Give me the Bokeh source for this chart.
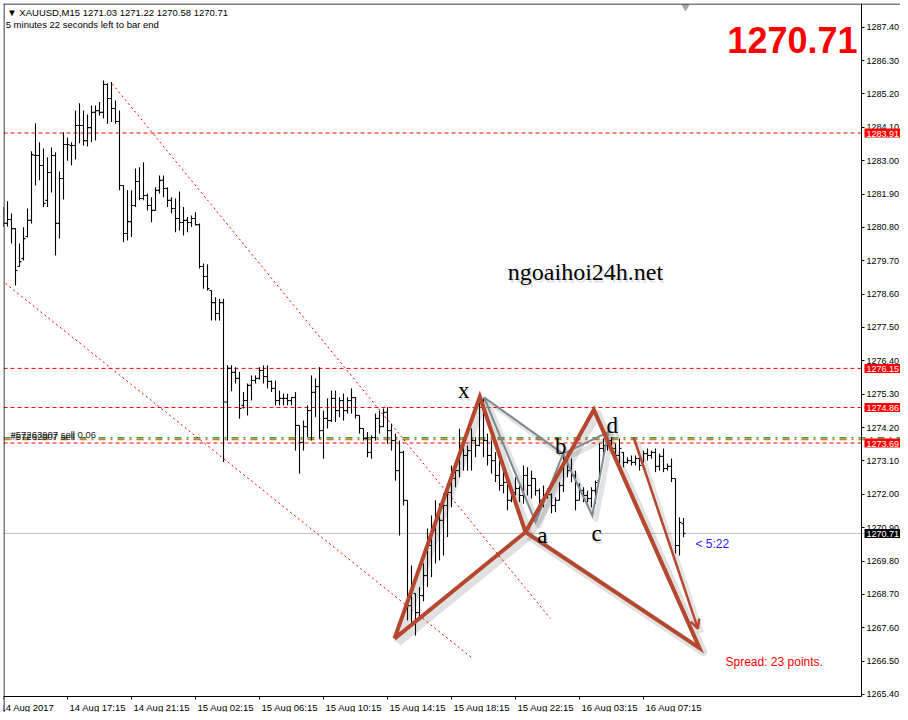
import numpy as np
from bokeh.plotting import figure
from bokeh.models import (Range1d, FixedTicker, Span, Label, Arrow, OpenHead, ColumnDataSource,
                          LinearAxis)
from bokeh.core.properties import value
from bokeh.embed import file_html
from bokeh.resources import INLINE

# ---------------- data (XAUUSD M15 bars) ----------------
opens = [
    1281.19, 1280.93, 1281.06, 1280.76, 1279.51, 1279.77, 1280.50, 1281.03, 1283.17, 1283.17,
    1282.84, 1281.69, 1282.61, 1283.17, 1280.93, 1282.41, 1283.53, 1283.50, 1283.50, 1284.16,
    1284.16, 1283.66, 1284.09, 1284.59, 1284.65, 1284.59, 1285.51, 1285.05, 1284.72, 1284.29,
    1282.18, 1280.60, 1280.99, 1281.52, 1282.31, 1281.75, 1281.85, 1281.52, 1281.36, 1282.02,
    1282.35, 1282.08, 1281.69, 1281.42, 1281.09, 1280.96, 1281.03, 1280.96, 1281.09, 1280.89,
    1279.51, 1279.18, 1278.72, 1278.32, 1277.96, 1278.32, 1275.04, 1276.15, 1276.02, 1275.82,
    1274.93, 1275.09, 1275.59, 1275.75, 1275.82, 1276.08, 1275.88, 1275.72, 1275.49, 1275.09,
    1275.16, 1275.16, 1275.09, 1275.19, 1274.27, 1273.71, 1274.23, 1274.76, 1275.36, 1275.55,
    1274.10, 1274.50, 1274.43, 1275.16, 1274.76, 1275.09, 1274.76, 1275.09, 1275.19, 1274.60,
    1274.17, 1273.84, 1273.38, 1273.87, 1274.50, 1274.23, 1274.70, 1274.10, 1273.77, 1272.78,
    1273.38, 1271.80, 1268.33, 1268.73, 1268.10, 1268.66, 1269.32, 1270.31, 1270.81, 1271.30,
    1271.14, 1271.63, 1272.06, 1272.52, 1272.78, 1273.61, 1273.28, 1273.44, 1273.77, 1273.61,
    1275.09, 1273.77, 1273.28, 1273.11, 1272.62, 1272.29, 1272.39, 1271.80, 1272.06, 1272.19,
    1271.96, 1272.62, 1272.29, 1272.52, 1272.12, 1271.80, 1271.96, 1271.99, 1271.63, 1271.80,
    1272.29, 1273.05, 1272.78, 1272.62, 1271.80, 1272.12, 1271.96, 1271.86, 1272.12, 1272.45,
    1273.51, 1273.61, 1273.77, 1273.51, 1273.28, 1273.38, 1273.05, 1273.11, 1273.05, 1273.18,
    1273.06, 1273.34, 1273.28, 1273.38, 1272.92, 1273.25, 1272.85, 1272.92, 1272.52, 1270.31,
    1271.03]
highs = [
    1281.47, 1281.66, 1281.26, 1280.76, 1280.27, 1280.80, 1281.42, 1283.31, 1284.23, 1283.61,
    1283.40, 1283.11, 1283.43, 1283.28, 1282.64, 1283.94, 1283.76, 1283.61, 1284.65, 1284.89,
    1284.65, 1284.52, 1284.82, 1284.82, 1284.93, 1285.64, 1285.55, 1285.59, 1284.98, 1284.65,
    1282.18, 1282.02, 1282.02, 1282.74, 1282.78, 1282.95, 1281.92, 1281.79, 1282.12, 1282.51,
    1282.51, 1282.12, 1281.79, 1281.75, 1281.98, 1281.47, 1281.14, 1281.19, 1281.30, 1280.93,
    1279.61, 1279.58, 1278.72, 1278.50, 1278.45, 1278.45, 1276.25, 1276.25, 1276.19, 1276.03,
    1275.37, 1275.65, 1275.92, 1275.92, 1276.19, 1276.25, 1276.25, 1275.75, 1275.75, 1275.42,
    1275.32, 1275.32, 1275.20, 1275.37, 1274.27, 1274.43, 1274.93, 1275.92, 1275.82, 1276.19,
    1274.76, 1275.16, 1275.42, 1275.42, 1275.20, 1275.32, 1275.20, 1275.49, 1275.20, 1274.60,
    1274.17, 1274.05, 1273.94, 1274.66, 1274.76, 1274.83, 1274.87, 1274.33, 1274.00, 1273.77,
    1273.44, 1271.80, 1269.65, 1268.73, 1268.94, 1269.72, 1270.87, 1271.30, 1271.80, 1271.70,
    1272.03, 1272.36, 1272.95, 1272.95, 1274.16, 1273.84, 1273.61, 1274.17, 1273.88, 1275.26,
    1275.16, 1274.00, 1273.77, 1273.39, 1273.11, 1272.95, 1272.40, 1272.29, 1272.56, 1272.29,
    1272.95, 1272.89, 1272.78, 1272.52, 1272.19, 1272.29, 1272.19, 1272.03, 1271.90, 1272.40,
    1273.28, 1273.34, 1273.18, 1272.78, 1272.36, 1272.23, 1272.12, 1272.23, 1272.45, 1273.67,
    1273.84, 1274.05, 1273.88, 1273.67, 1273.84, 1273.39, 1273.22, 1273.28, 1273.28, 1273.22,
    1273.44, 1273.51, 1273.44, 1273.51, 1273.34, 1273.51, 1273.01, 1273.18, 1272.52, 1271.24,
    1271.22]
lows = [
    1280.81, 1280.83, 1280.27, 1278.88, 1279.51, 1279.71, 1280.47, 1280.93, 1282.18, 1282.35,
    1281.47, 1281.47, 1281.95, 1279.87, 1280.43, 1281.72, 1283.00, 1282.84, 1283.04, 1283.57,
    1283.50, 1283.47, 1283.61, 1283.66, 1284.49, 1284.39, 1284.22, 1284.27, 1284.22, 1282.02,
    1280.31, 1280.37, 1280.48, 1281.47, 1281.69, 1281.69, 1281.36, 1280.97, 1281.36, 1281.92,
    1281.79, 1281.47, 1281.26, 1280.64, 1280.70, 1280.53, 1280.64, 1280.81, 1280.86, 1279.44,
    1278.78, 1278.72, 1277.73, 1277.73, 1277.73, 1273.06, 1273.77, 1275.40, 1275.65, 1274.49,
    1274.83, 1274.60, 1275.09, 1275.65, 1275.78, 1275.65, 1275.49, 1275.37, 1274.93, 1274.93,
    1274.93, 1274.93, 1274.93, 1273.44, 1272.68, 1273.44, 1273.88, 1273.77, 1274.54, 1273.83,
    1273.17, 1274.17, 1274.38, 1274.38, 1274.54, 1274.43, 1274.66, 1274.66, 1274.50, 1274.00,
    1273.77, 1273.22, 1273.17, 1273.77, 1274.00, 1274.21, 1273.66, 1273.44, 1272.45, 1270.64,
    1271.63, 1267.84, 1267.74, 1267.34, 1267.84, 1268.47, 1268.94, 1269.27, 1269.72, 1269.82,
    1269.98, 1270.59, 1271.57, 1272.23, 1272.56, 1272.78, 1272.78, 1272.78, 1273.22, 1273.58,
    1273.22, 1272.95, 1272.68, 1272.40, 1272.12, 1272.03, 1271.47, 1271.74, 1271.96, 1271.74,
    1271.69, 1271.96, 1271.86, 1271.96, 1271.53, 1271.57, 1271.86, 1271.37, 1271.41, 1271.80,
    1272.07, 1272.56, 1272.40, 1271.47, 1271.80, 1271.74, 1271.74, 1271.57, 1271.69, 1272.45,
    1273.22, 1273.44, 1273.39, 1273.17, 1273.01, 1272.89, 1273.01, 1272.95, 1272.95, 1272.78,
    1273.06, 1273.11, 1273.17, 1272.73, 1272.78, 1272.73, 1272.78, 1272.40, 1270.05, 1269.98,
    1270.58]
closes = [
    1280.93, 1281.06, 1280.76, 1279.38, 1279.67, 1280.43, 1281.03, 1283.20, 1283.17, 1282.84,
    1281.59, 1282.61, 1283.17, 1280.93, 1282.41, 1283.53, 1283.53, 1283.50, 1284.16, 1284.16,
    1283.66, 1284.09, 1284.59, 1284.65, 1284.59, 1285.51, 1285.05, 1284.72, 1284.29, 1282.18,
    1280.60, 1280.99, 1281.52, 1282.31, 1281.75, 1281.85, 1281.52, 1281.36, 1282.02, 1282.35,
    1282.08, 1281.69, 1281.42, 1281.09, 1280.96, 1281.03, 1280.96, 1281.09, 1280.89, 1279.51,
    1279.18, 1278.78, 1278.32, 1277.96, 1278.32, 1275.04, 1276.15, 1276.02, 1275.82, 1274.83,
    1275.09, 1275.59, 1275.75, 1275.82, 1276.08, 1275.88, 1275.72, 1275.49, 1275.09, 1275.16,
    1275.16, 1275.09, 1275.19, 1274.27, 1273.71, 1274.23, 1274.76, 1275.36, 1275.55, 1274.10,
    1274.50, 1274.43, 1275.16, 1274.76, 1275.09, 1274.76, 1275.09, 1275.19, 1274.60, 1274.17,
    1273.84, 1273.38, 1273.87, 1274.50, 1274.23, 1274.70, 1274.10, 1273.77, 1272.78, 1273.38,
    1271.80, 1268.33, 1268.83, 1268.10, 1268.66, 1269.32, 1270.31, 1270.81, 1271.30, 1271.14,
    1271.63, 1272.06, 1272.52, 1272.78, 1273.61, 1273.28, 1273.44, 1273.77, 1273.61, 1275.09,
    1273.77, 1273.28, 1273.11, 1272.62, 1272.29, 1272.39, 1271.80, 1272.06, 1272.19, 1271.96,
    1272.62, 1272.29, 1272.52, 1272.12, 1271.80, 1271.96, 1271.99, 1271.63, 1271.80, 1272.29,
    1273.05, 1272.78, 1272.62, 1271.80, 1272.12, 1271.96, 1271.86, 1272.12, 1272.39, 1273.51,
    1273.61, 1273.77, 1273.51, 1273.28, 1273.51, 1273.05, 1273.11, 1273.05, 1273.18, 1272.95,
    1273.34, 1273.28, 1273.38, 1272.92, 1273.25, 1272.85, 1272.92, 1272.52, 1270.31, 1271.07,
    1270.71]

x_tick_bars = [0, 16, 32, 48, 64, 80, 96, 112, 128, 144, 160]
x_tick_labels = ["14 Aug 2017", "14 Aug 17:15", "14 Aug 21:15", "15 Aug 02:15", "15 Aug 06:15",
                 "15 Aug 10:15", "15 Aug 14:15", "15 Aug 18:15", "15 Aug 22:15", "16 Aug 03:15",
                 "16 Aug 07:15"]
price_ticks = [1265.40, 1266.50, 1267.60, 1268.70, 1269.80, 1270.90, 1272.00, 1273.10, 1274.20,
               1275.30, 1276.40, 1277.50, 1278.60, 1279.70, 1280.80, 1281.90, 1283.00, 1284.10,
               1285.20, 1286.30, 1287.40]
price_tick_labels = ["1265.40", "1266.50", "1267.60", "1268.70", "1269.80", "1270.90", "1272.00",
                     "1273.10", "1274.20", "1275.30", "1276.40", "1277.50", "1278.60", "1279.70",
                     "1280.80", "1281.90", "1283.00", "1284.10", "1285.20", "1286.30", "1287.40"]

level_prices = [1283.91, 1276.15, 1274.86, 1273.69]     # red dashed levels
order_green_price = 1273.86
order_orange_price = 1273.80
order_texts = ["#57263907 sell 0.06", "#57262907 sell"]

trend_upper_bars = [27.2, 136.75]
trend_upper_prices = [1285.53, 1267.90]
trend_lower_bars = [0.5, 117.25]
trend_lower_prices = [1278.95, 1266.59]

pattern_bars = [97.75, 119.08, 130.5, 147.58, 174.0]       # brown triangles
pattern_prices = [1267.24, 1275.22, 1270.75, 1274.79, 1266.93]
arrow_bars = [157.58, 173.6]
arrow_prices = [1273.86, 1267.57]

xabcd_bars = [120.1, 133.0, 139.9, 147.2, 151.2]           # grey x-a-b-c-d
xabcd_prices = [1275.20, 1271.08, 1273.33, 1271.30, 1274.05]
xabcd_names = ["x", "a", "b", "c", "d"]
name_bars = [115.08, 134.7, 139.3, 148.25, 152.2]
name_prices = [1275.42, 1270.64, 1273.58, 1270.72, 1274.27]

watermark = "ngoaihoi24h.net"
spread_text = "Spread: 23 points."
timer_text = "< 5:22"
header2 = "5 minutes 22 seconds left to bar end"

# ---------------- figure ----------------
BROWN = "#B5472F"
GREY = "#7D8A91"
SANS = "Liberation Sans"
FS = 9.5
FS_PRICE = 9

X0, X1 = 0.0, 224.25          # visible bar span
Y0, Y1 = 1264.805, 1288.181   # visible price span
AXIS_BAR = 214.5              # price scale sits after the last bar slots
AXIS_PRICE = 1265.33          # time scale baseline

p = figure(width=900, height=712, title=None,
           x_range=Range1d(X0, X1), y_range=Range1d(Y0, Y1),
           x_axis_location=None, y_axis_location=None,
           output_backend="svg", toolbar_location=None,
           min_border_left=3, min_border_top=3, min_border_right=0, min_border_bottom=0)
p.background_fill_color = "white"
p.border_fill_color = "white"
p.outline_line_color = None
p.grid.visible = False


def pad_left(j, s):
    # centred tick labels -> push the text so that it starts just after its tick
    # (the first label is already kept inside the frame by Bokeh)
    if j == 0:
        return s
    k = int(round((len(s) * 0.49 * FS + 4) / (0.278 * FS)))
    return "\u00a0" * k + s


xa = LinearAxis(fixed_location=AXIS_PRICE, bounds=(X0, AXIS_BAR))
xa.ticker = FixedTicker(ticks=x_tick_bars)
xa.major_label_overrides = {t: pad_left(j, s) for j, (t, s) in enumerate(zip(x_tick_bars, x_tick_labels))}
xa.major_label_text_font = SANS
xa.major_label_text_font_size = f"{FS}px"
xa.major_label_text_color = "black"
xa.major_tick_in = 0
xa.major_tick_out = 3
xa.minor_tick_line_color = None
xa.major_label_standoff = 2
xa.axis_line_color = "black"
xa.major_tick_line_color = "black"
p.add_layout(xa, "below")

ya = LinearAxis(fixed_location=AXIS_BAR, bounds=(AXIS_PRICE, Y1))
ya.ticker = FixedTicker(ticks=price_ticks)
ya.major_label_overrides = {t: s for t, s in zip(price_ticks, price_tick_labels)}
ya.major_label_text_font = SANS
ya.major_label_text_font_size = f"{FS_PRICE}px"
ya.major_label_text_color = "black"
ya.major_tick_in = 0
ya.major_tick_out = 3
ya.minor_tick_line_color = None
ya.major_label_standoff = 2
ya.axis_line_color = "black"
ya.major_tick_line_color = "black"
p.add_layout(ya, "right")

# frame edges (left / top)
p.add_layout(Span(location=X0 + 0.125, dimension="height", line_color="black", line_width=1))
p.add_layout(Span(location=Y1 - 0.0165, dimension="width", line_color="black", line_width=1))

# horizontal levels
for pr in level_prices:
    p.add_layout(Span(location=pr, dimension="width", line_color="#FF0000",
                      line_dash="4 3", line_width=1, level="underlay"))
p.add_layout(Span(location=order_green_price, dimension="width", line_color="#008000",
                  line_dash="7 5 2 5", line_width=1.3, level="underlay"))
p.add_layout(Span(location=order_orange_price, dimension="width", line_color="#FF6A00",
                  line_dash="7 5 2 5", line_width=1.3, level="underlay"))
p.add_layout(Span(location=closes[-1], dimension="width", line_color="#C0C0C0",
                  line_width=1, level="underlay"))

# trend lines (red dotted)
p.line(trend_upper_bars, trend_upper_prices, line_color="#FF0000", line_dash="2 3", line_width=1)
p.line(trend_lower_bars, trend_lower_prices, line_color="#FF0000", line_dash="2 3", line_width=1)

# order labels
p.text(x=[1.75], y=[order_green_price], text=[order_texts[0]], text_font=value(SANS),
       text_font_size=f"{FS}px", text_color="#222222", text_baseline="alphabetic",
       text_align="left", y_offset=-3)
p.text(x=[1.75], y=[order_green_price], text=[order_texts[1]], text_font=value(SANS),
       text_font_size=f"{FS}px", text_color="#222222", text_baseline="alphabetic",
       text_align="left", y_offset=-1)

# OHLC bars
idx = np.arange(len(highs))
src = ColumnDataSource(dict(i=idx, il=idx - 0.5, ir=idx + 0.5,
                            o=opens, h=highs, l=lows, c=closes))
p.segment(x0="i", y0="l", x1="i", y1="h", source=src, line_color="black", line_width=1.1)
p.segment(x0="il", y0="o", x1="i", y1="o", source=src, line_color="black", line_width=1.1)
p.segment(x0="i", y0="c", x1="ir", y1="c", source=src, line_color="black", line_width=1.1)

# harmonic pattern drawings
pb = np.array(pattern_bars)
pp = np.array(pattern_prices)
tri_order = [[0, 1, 2, 0], [2, 3, 4, 2]]
tri_xs = [list(pb[o]) for o in tri_order]
tri_ys = [list(pp[o]) for o in tri_order]
gb = np.array(xabcd_bars)
gp = np.array(xabcd_prices)
g_xs = [list(gb[o]) for o in tri_order]
g_ys = [list(gp[o]) for o in tri_order]

dx, dy = 0.9, -0.13
p.multi_line([list(np.array(x) + dx) for x in tri_xs], [list(np.array(y) + dy) for y in tri_ys],
             line_color="black", line_alpha=0.12, line_width=8, line_join="round")
p.multi_line([list(np.array(x) + dx) for x in g_xs], [list(np.array(y) + dy) for y in g_ys],
             line_color="black", line_alpha=0.11, line_width=5, line_join="round")
p.line(list(np.array(arrow_bars) + dx), list(np.array(arrow_prices) + dy),
       line_color="black", line_alpha=0.11, line_width=5)

p.multi_line(g_xs, g_ys, line_color=GREY, line_width=2, line_join="miter")
p.multi_line(tri_xs, tri_ys, line_color=BROWN, line_width=4, line_join="miter")
p.add_layout(Arrow(x_start=arrow_bars[0], y_start=arrow_prices[0],
                   x_end=arrow_bars[1], y_end=arrow_prices[1],
                   line_color=BROWN, line_width=2.5,
                   end=OpenHead(size=9, line_color=BROWN, line_width=2.5)))

# pattern letters (soft shadow + text)
for ox, oy in [(1, 2), (2, 3)]:
    p.text(x=name_bars, y=name_prices, text=xabcd_names, text_font=value("Liberation Serif"),
           text_font_size="23px", text_color="#808080", text_alpha=0.2, text_align="center",
           text_baseline="alphabetic", x_offset=ox, y_offset=oy)
p.text(x=name_bars, y=name_prices, text=xabcd_names, text_font=value("Liberation Serif"),
       text_font_size="23px", text_color="black", text_align="center",
       text_baseline="alphabetic")

# watermark
for ox, oy in [(1, 2), (2, 3)]:
    p.text(x=[145.5], y=[1279.32], text=[watermark], text_font=value("Liberation Serif"),
           text_font_size="24px", text_color="#808080", text_alpha=0.16, text_align="center",
           text_baseline="alphabetic", x_offset=ox, y_offset=oy)
p.text(x=[145.5], y=[1279.32], text=[watermark], text_font=value("Liberation Serif"),
       text_font_size="24px", text_color="black", text_align="center",
       text_baseline="alphabetic")

# timer, spread
p.text(x=[173.0], y=[1270.36], text=[timer_text], text_font=value(SANS), text_font_size="12px",
       text_color="#1C1CFF", text_align="left", text_baseline="alphabetic")
p.text(x=[180.5], y=[1266.46], text=[spread_text], text_font=value(SANS), text_font_size="12px",
       text_color="#FF0000", text_align="left", text_baseline="alphabetic")

# big bid
p.text(x=[213.5], y=[1286.99], text=[f"{closes[-1]:.2f}"], text_font=value(SANS),
       text_font_size="36px", text_font_style="bold", text_color="#FF0000",
       text_align="right", text_baseline="alphabetic")

# header
header1 = f"\u25bc XAUUSD,M15  {opens[-1]:.2f} {highs[-1]:.2f} {lows[-1]:.2f} {closes[-1]:.2f}"
p.text(x=[0.95, 0.55], y=[1287.89, 1287.48], text=[header1, header2], text_font=value(SANS),
       text_font_size=f"{FS}px", text_color="black", text_align="left", text_baseline="middle")

# chart shift marker
p.scatter(x=[170.5], y=[1288.07], marker="inverted_triangle", size=7,
          fill_color="#A8A8A8", line_color="#A8A8A8")

# price labels on the right scale
pad = dict(left=2, right=2, top=2, bottom=1)
for pr in level_prices:
    p.add_layout(Label(x=AXIS_BAR, y=pr, x_offset=3, text=f"{pr:.2f}", text_align="left",
                       text_baseline="middle", text_color="white", text_font=SANS,
                       text_font_size=f"{FS_PRICE}px", background_fill_color="#FF0000",
                       padding=pad))
p.add_layout(Label(x=AXIS_BAR, y=closes[-1], x_offset=3, text=f"{closes[-1]:.2f}",
                   text_align="left", text_baseline="middle", text_color="white", text_font=SANS,
                   text_font_size=f"{FS_PRICE}px", background_fill_color="black", padding=pad))

open("out.html", "w").write(file_html(p, INLINE))
